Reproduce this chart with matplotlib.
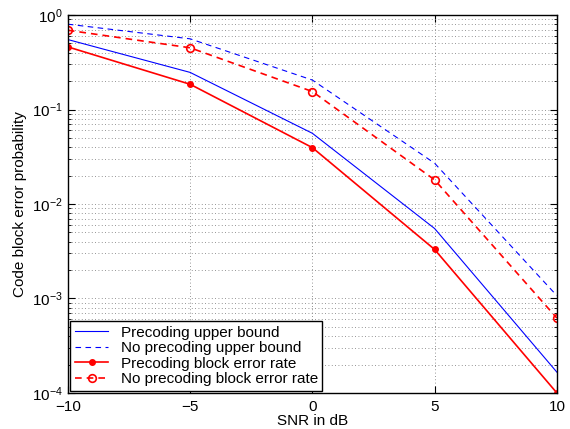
import matplotlib
matplotlib.use('Agg')
import matplotlib.pyplot as plt
from matplotlib.ticker import LogLocator, NullFormatter

plt.rcParams['font.family'] = ['Liberation Sans', 'DejaVu Sans']

snr = [-10, -5, 0, 5, 10]
prec_bound = [0.55, 0.247, 0.056, 0.0055, 1.66e-4]
noprec_bound = [0.80, 0.56, 0.205, 0.027, 1.07e-3]
prec_bler = [0.46, 0.185, 0.0395, 0.0033, 1.0e-4]
noprec_bler = [0.69, 0.45, 0.155, 0.018, 6.2e-4]

fig = plt.figure(figsize=(5.7, 4.29), dpi=100)
ax = fig.add_axes([0.119, 0.084, 0.858, 0.881])

ax.semilogy(snr, prec_bound, color='blue', lw=0.8, label='Precoding upper bound')
ax.semilogy(snr, noprec_bound, color='blue', lw=0.8, ls=(0, (5, 4)),
            label='No precoding upper bound')
ax.semilogy(snr, prec_bler, color='red', lw=1.2, marker='.', ms=8,
            label='Precoding block error rate')
ax.semilogy(snr, noprec_bler, color='red', lw=1.2, ls=(0, (4, 3)), marker='o',
            ms=5.5, mfc='none', mew=1.2, label='No precoding block error rate')

ax.set_xlim(-10, 10)
ax.set_ylim(1e-4, 1)
ax.set_xticks([-10, -5, 0, 5, 10])
ax.set_xticklabels(['\u221210', '\u22125', '0', '5', '10'])
ax.yaxis.set_major_locator(LogLocator(base=10, numticks=10))
ax.yaxis.set_minor_locator(LogLocator(base=10, subs=range(2, 10), numticks=10))
ax.yaxis.set_minor_formatter(NullFormatter())

# matlab-like dotted grid
ax.grid(True, which='major', ls=(0, (1, 3)), color='0.45', lw=0.6)
ax.grid(True, which='minor', axis='y', ls=(0, (1, 3)), color='0.45', lw=0.6)
ax.tick_params(which='both', direction='in', top=True, right=True, labelsize=11)
ax.tick_params(which='major', length=5)
ax.tick_params(which='minor', length=2.5)
ax.tick_params(axis='x', pad=5)
for s in ax.spines.values():
    s.set_linewidth(1.0)

ax.set_xlabel('SNR in dB', fontsize=11, labelpad=0)
ax.set_ylabel('Code block error probability', fontsize=11, labelpad=4)

leg = ax.legend(loc='lower left', fontsize=11, fancybox=False, framealpha=1,
                edgecolor='black', borderaxespad=0.15, handlelength=2.2,
                labelspacing=0.1, borderpad=0.3)
leg.get_frame().set_linewidth(1.0)

fig.savefig('out.png', dpi=100)
